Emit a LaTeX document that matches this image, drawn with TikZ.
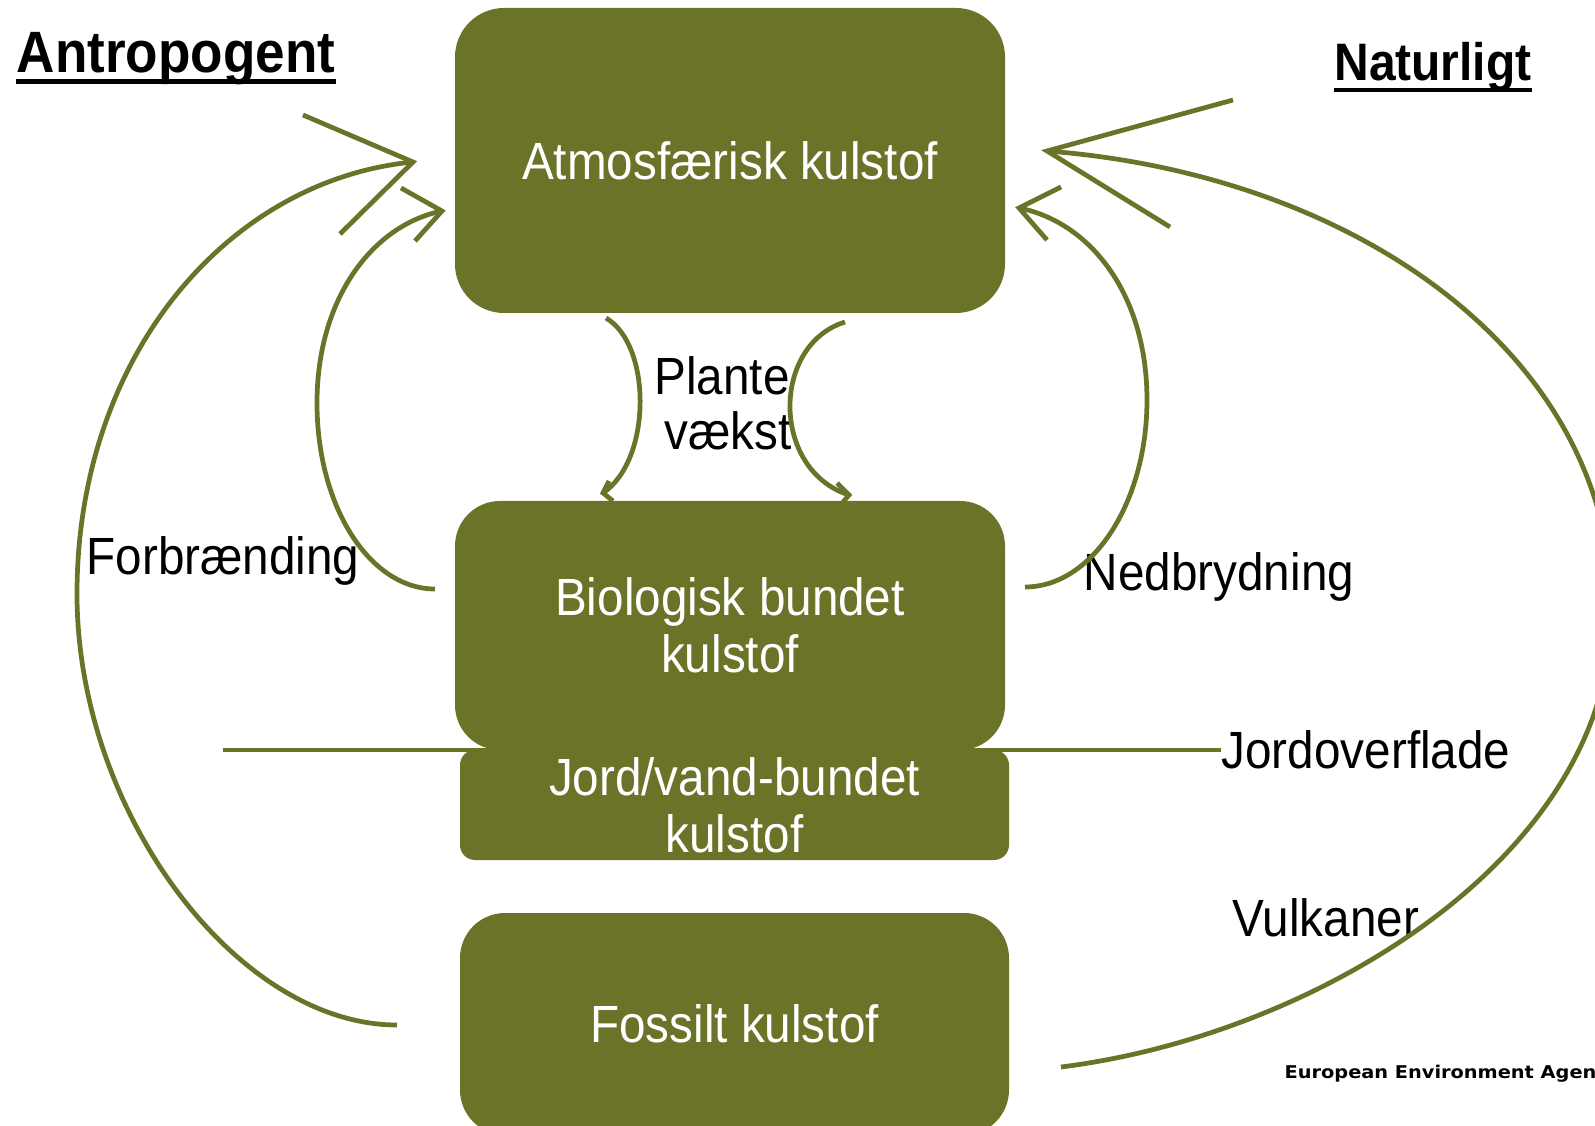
\documentclass[tikz,border=0pt]{standalone}
\usepackage{fontspec}
\setmainfont{Liberation Sans}[FakeStretch=0.91]
\newfontfamily\eeafont{DejaVu Sans}[FakeStretch=1.1]
\usetikzlibrary{positioning}
\definecolor{kulgreen}{RGB}{107,115,40}
\tikzset{
  kulbox/.style={fill=kulgreen, text=white, align=center, inner sep=0pt,
    font=\fontsize{14.9}{16.2}\selectfont},
  flow/.style={draw=kulgreen, line width=1.35pt},
  lbl/.style={font=\fontsize{14.9}{16.2}\selectfont, inner sep=0pt, anchor=base},
  head/.style={font=\bfseries\fontsize{16.6}{18}\selectfont, inner sep=0pt, anchor=base},
  ul/.style={line width=1.3pt}
}

\begin{document}
\begin{tikzpicture}
  \useasboundingbox (0,0) rectangle (15.95,-11.26);
  \clip (0,0) rectangle (15.95,-11.26);

  % overskrifter
  \node[head] (antro) at (1.76,-0.73) {Antropogent};
  \node[head, font=\bfseries\fontsize{15}{17}\selectfont] (natur) at (14.33,-0.81) {Naturligt};
  \draw[ul] ([yshift=-2.4pt]antro.base west) -- ([yshift=-2.4pt]antro.base east);
  \draw[ul] ([yshift=-2.6pt]natur.base west) -- ([yshift=-2.6pt]natur.base east);

  % labels
  \node[lbl] (plante) at (7.22,-3.95) {Plante};
  \node[lbl] (vaekst) at (7.28,-4.50) {vækst};
  \node[lbl] (forb) at (2.23,-5.75) {Forbrænding};
  \node[lbl] (nedbr) at (12.19,-5.91) {Nedbrydning};
  \node[lbl] (jordlbl) at (13.66,-7.69) {Jordoverflade};
  \node[lbl] (vulk) at (13.26,-9.37) {Vulkaner};
  \node[anchor=base west, inner sep=0pt, font=\eeafont\bfseries\fontsize{5}{6}\selectfont]
    (eea) at (12.84,-10.78) {European Environment Agency};

  % jordoverflade
  \coordinate (soilL) at (2.23,-7.50);
  \draw[flow] (soilL) -- (soilL -| jordlbl.west);

  % kasser
  \node[kulbox, rounded corners=0.49cm, minimum width=5.50cm, minimum height=3.05cm]
    (atm) at (7.30,-1.605) {Atmosfærisk kulstof};
  \node[kulbox, rounded corners=0.15cm, minimum width=5.49cm, minimum height=1.10cm]
    (jord) at (7.345,-8.05) {Jord/vand-bundet\\kulstof};
  \node[kulbox, rounded corners=0.45cm, minimum width=5.50cm, minimum height=2.49cm]
    (bio) at (7.30,-6.255) {Biologisk bundet\\kulstof};
  \node[kulbox, rounded corners=0.45cm, minimum width=5.49cm, minimum height=2.22cm]
    (fos) at (7.345,-10.24) {Fossilt kulstof};

  % plantevaekst
  \coordinate (atmB1) at (6.06,-3.18);
  \coordinate (bioT1) at (6.03,-4.93);
  \coordinate (atmB2) at (8.45,-3.22);
  \coordinate (bioT2) at (8.49,-4.95);
  \draw[flow] (atmB1) .. controls (6.52,-3.45) and (6.52,-4.60) .. (bioT1);
  \draw[flow] (bioT1) ++(0.06,0.12) -- (bioT1) -- ++(0.10,-0.08);
  \draw[flow] (atmB2) .. controls (7.71,-3.45) and (7.71,-4.70) .. (bioT2);
  \draw[flow] (bioT2) ++(-0.12,0.12) -- (bioT2) -- ++(-0.06,-0.07);

  % forbraending
  \coordinate (fosL) at (3.97,-10.25);
  \coordinate (forbW) at (0.77,-5.94);
  \coordinate (atmTipL) at (4.13,-1.62);
  \draw[flow] (fosL) .. controls (2.37,-10.25) and (0.77,-8.12) .. (forbW)
    .. controls (0.77,-3.56) and (2.28,-1.80) .. (atmTipL);
  \draw[flow] (atmTipL) ++(-1.10,0.47) -- (atmTipL) -- ++(-0.73,-0.72);

  \coordinate (bioL) at (4.35,-5.89);
  \coordinate (forbI) at (3.17,-4.03);
  \coordinate (atmTipLi) at (4.42,-2.11);
  \draw[flow] (bioL) .. controls (3.70,-5.89) and (3.17,-5.07) .. (forbI)
    .. controls (3.17,-2.98) and (3.73,-2.25) .. (atmTipLi);
  \draw[flow] (atmTipLi) ++(-0.41,0.23) -- (atmTipLi) -- ++(-0.27,-0.30);

  % nedbrydning
  \coordinate (bioR) at (10.25,-5.87);
  \coordinate (nedE) at (11.47,-4.00);
  \coordinate (atmTipRi) at (10.19,-2.08);
  \draw[flow] (bioR) .. controls (10.92,-5.87) and (11.47,-5.03) .. (nedE)
    .. controls (11.47,-2.94) and (10.90,-2.22) .. (atmTipRi);
  \draw[flow] (atmTipRi) ++(0.42,0.21) -- (atmTipRi) -- ++(0.28,-0.32);

  % vulkaner
  \coordinate (fosR) at (10.61,-10.67);
  \coordinate (vulkE) at (16.12,-6.10);
  \coordinate (atmTipR) at (10.47,-1.51);
  \draw[flow] (fosR) .. controls (13.11,-10.36) and (16.12,-8.60) .. (vulkE)
    .. controls (16.12,-3.57) and (13.59,-1.75) .. (atmTipR);
  \draw[flow] (atmTipR) ++(1.86,0.51) -- (atmTipR) -- ++(1.23,-0.76);
\end{tikzpicture}
\end{document}
